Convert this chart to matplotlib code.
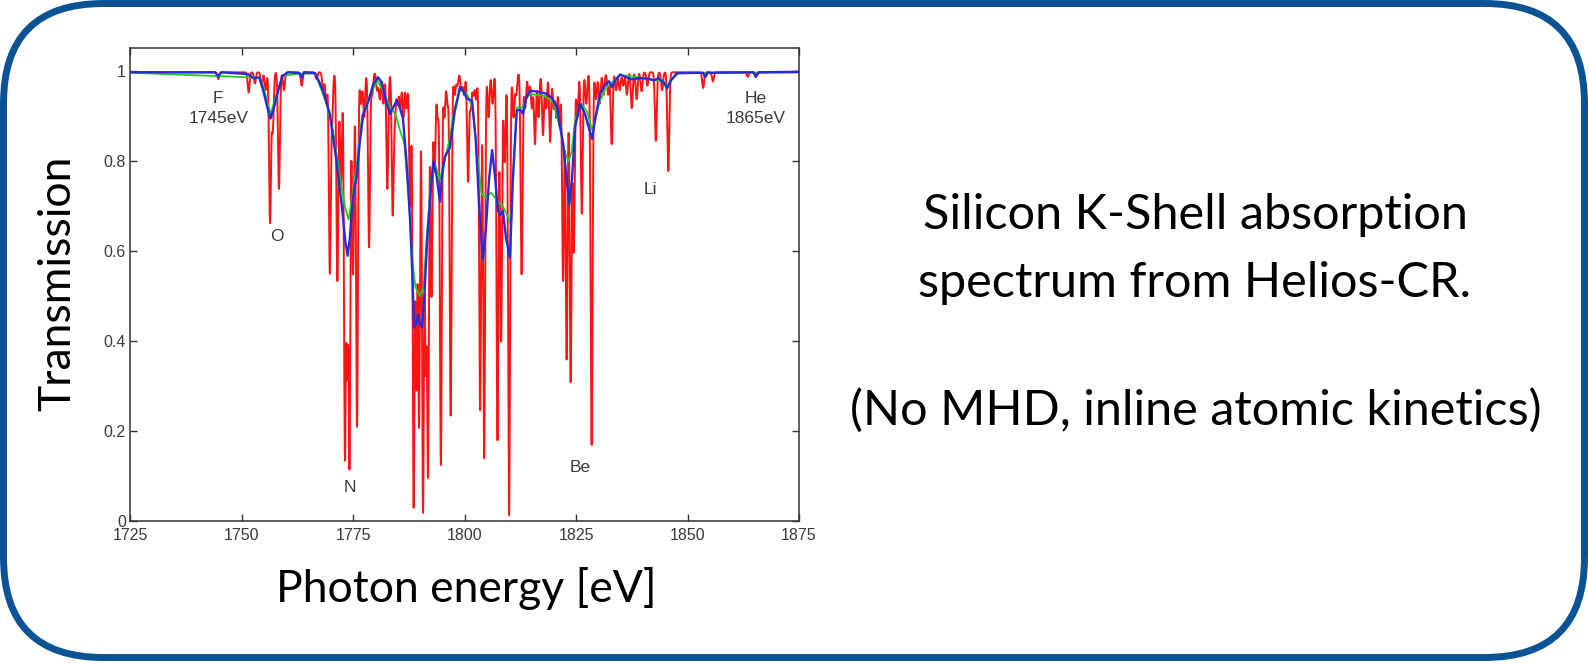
import numpy as np
import matplotlib
matplotlib.use("Agg")
import matplotlib.pyplot as plt
from matplotlib.patches import FancyBboxPatch

# absorption lines of the detailed spectrum: centre [eV], transmission at line centre
line_centers = [1744.8, 1751.6, 1753.0, 1754.5, 1755.4, 1756.4, 1757.0, 1758.4, 1759.5, 1763.5, 1766.8,
                1768.3, 1769.0, 1769.8, 1770.3, 1771.5, 1772.3, 1773.2, 1773.7, 1774.2, 1775.0, 1775.9,
                1776.8, 1777.5, 1778.6, 1779.3, 1780.4, 1781.0, 1781.8, 1782.7, 1783.9, 1784.4, 1785.0,
                1785.6, 1786.3, 1787.0, 1787.8, 1788.6, 1789.2, 1789.8, 1790.7, 1791.3, 1791.8, 1792.6,
                1793.3, 1794.0, 1794.7, 1795.5, 1796.2, 1796.9, 1797.8, 1798.4, 1799.3, 1799.9, 1800.8,
                1801.4, 1802.0, 1802.6, 1803.5, 1804.4, 1805.4, 1806.3, 1807.4, 1808.2, 1809.0, 1810.0,
                1811.0, 1811.6, 1812.8, 1813.6, 1814.4, 1815.1, 1815.8, 1816.6, 1817.6, 1818.3, 1819.2,
                1820.0, 1820.6, 1821.3, 1822.1, 1822.9, 1823.8, 1824.5, 1825.3, 1826.3, 1827.3, 1828.5,
                1829.5, 1830.3, 1831.2, 1832.2, 1833.0, 1834.0, 1834.8, 1835.6, 1836.4, 1837.5, 1838.6,
                1839.7, 1841.0, 1842.9, 1844.3, 1845.7, 1853.5, 1855.7, 1863.5, 1865.3]
line_minima = [0.985, 0.955, 0.975, 0.97, 0.96, 0.665, 0.87, 0.74, 0.96, 0.97, 0.985,
               0.96, 0.93, 0.555, 0.90, 0.535, 0.75, 0.14, 0.35, 0.12, 0.55, 0.21,
               0.93, 0.90, 0.61, 0.95, 0.96, 0.94, 0.93, 0.74, 0.685, 0.90, 0.93,
               0.92, 0.90, 0.92, 0.70, 0.03, 0.30, 0.21, 0.018, 0.35, 0.10, 0.50,
               0.78, 0.90, 0.125, 0.90, 0.93, 0.235, 0.95, 0.97, 0.96, 0.95, 0.757,
               0.92, 0.95, 0.94, 0.247, 0.14, 0.90, 0.93, 0.18, 0.40, 0.80, 0.013,
               0.90, 0.95, 0.55, 0.92, 0.95, 0.92, 0.84, 0.90, 0.86, 0.92, 0.845,
               0.92, 0.90, 0.88, 0.535, 0.36, 0.31, 0.60, 0.90, 0.685, 0.93, 0.17,
               0.94, 0.93, 0.95, 0.95, 0.84, 0.96, 0.96, 0.97, 0.95, 0.92, 0.94,
               0.958, 0.97, 0.847, 0.96, 0.78, 0.965, 0.98, 0.99, 0.99]
line_width = 0.3

# instrument-smoothed spectrum (blue)
blue_e = [1725.0, 1744.0, 1744.8, 1745.5, 1751.5, 1752.5, 1754.0, 1754.8, 1755.8, 1756.5, 1757.3, 1758.3,
          1759.2, 1760.5, 1763.0, 1763.5, 1764.0, 1766.5, 1767.5, 1768.5, 1769.8, 1771.3, 1772.5, 1773.3,
          1773.8, 1774.3, 1775.0, 1775.8, 1776.5, 1777.3, 1778.5, 1779.5, 1780.6, 1781.5, 1782.5, 1783.3,
          1784.0, 1784.8, 1785.5, 1786.2, 1787.0, 1787.8, 1788.3, 1788.7, 1789.2, 1789.6, 1790.0, 1790.5,
          1791.0, 1791.6, 1792.3, 1793.0, 1793.7, 1794.5, 1795.0, 1795.6, 1796.7, 1797.8, 1799.0, 1799.8,
          1800.5, 1801.7, 1802.5, 1803.3, 1804.1, 1804.8, 1805.5, 1806.2, 1806.8, 1807.5, 1808.0, 1808.6,
          1809.3, 1810.2, 1810.8, 1811.7, 1812.5, 1813.1, 1813.8, 1814.7, 1816.5, 1818.5, 1819.7, 1820.7,
          1822.1, 1823.0, 1823.5, 1824.1, 1824.8, 1825.9, 1827.0, 1828.0, 1828.6, 1829.4, 1830.4, 1831.5,
          1832.4, 1833.1, 1833.8, 1834.9, 1836.0, 1837.5, 1839.0, 1841.0, 1842.5, 1843.5, 1844.7, 1845.4,
          1846.3, 1847.6, 1853.5, 1854.0, 1854.5, 1864.8, 1865.3, 1866.0, 1875.0]
blue_t = [0.998, 0.998, 0.99, 0.998, 0.994, 0.986, 0.986, 0.96, 0.92, 0.895, 0.92, 0.96,
          0.99, 0.998, 0.996, 0.986, 0.998, 0.996, 0.975, 0.95, 0.905, 0.80, 0.70, 0.62,
          0.59, 0.63, 0.72, 0.765, 0.84, 0.905, 0.935, 0.97, 0.987, 0.975, 0.93, 0.905,
          0.92, 0.935, 0.92, 0.895, 0.80, 0.67, 0.55, 0.43, 0.44, 0.46, 0.44, 0.43,
          0.50, 0.62, 0.72, 0.80, 0.77, 0.71, 0.77, 0.81, 0.83, 0.91, 0.965, 0.955,
          0.94, 0.935, 0.85, 0.70, 0.58, 0.65, 0.76, 0.825, 0.77, 0.69, 0.68, 0.69,
          0.63, 0.585, 0.75, 0.913, 0.915, 0.905, 0.94, 0.957, 0.955, 0.95, 0.94, 0.92,
          0.84, 0.75, 0.705, 0.76, 0.876, 0.928, 0.906, 0.87, 0.85, 0.90, 0.95, 0.97,
          0.978, 0.965, 0.98, 0.993, 0.988, 0.982, 0.985, 0.984, 0.98, 0.985, 0.975, 0.962,
          0.98, 0.996, 0.997, 0.987, 0.997, 0.998, 0.988, 0.998, 0.999]

# second smoothed spectrum (green)
green_e = [1725.0, 1754.0, 1754.8, 1756.5, 1757.3, 1758.5, 1759.3, 1763.0, 1766.5, 1767.5, 1769.0, 1770.5,
           1772.0, 1773.2, 1774.0, 1774.8, 1775.8, 1777.0, 1778.5, 1780.5, 1782.0, 1783.3, 1784.5, 1785.5,
           1786.5, 1787.5, 1788.3, 1789.0, 1790.0, 1790.8, 1791.6, 1792.5, 1793.5, 1794.5, 1795.5, 1796.7,
           1797.8, 1799.0, 1800.5, 1801.8, 1802.8, 1803.8, 1804.5, 1806.0, 1807.5, 1808.6, 1809.6, 1810.4,
           1811.0, 1811.8, 1813.0, 1814.5, 1818.0, 1820.0, 1821.5, 1822.5, 1823.3, 1824.0, 1824.8, 1826.0,
           1827.5, 1828.6, 1829.5, 1830.2, 1831.5, 1833.0, 1835.0, 1840.0, 1844.7, 1845.4, 1846.3, 1848.0,
           1875.0]
green_t = [0.997, 0.986, 0.97, 0.905, 0.93, 0.97, 0.99, 0.995, 0.995, 0.97, 0.93, 0.87,
           0.77, 0.70, 0.67, 0.72, 0.79, 0.90, 0.94, 0.98, 0.95, 0.92, 0.905, 0.87,
           0.84, 0.72, 0.58, 0.52, 0.50, 0.52, 0.64, 0.76, 0.79, 0.76, 0.80, 0.85,
           0.92, 0.96, 0.95, 0.92, 0.82, 0.73, 0.72, 0.73, 0.71, 0.70, 0.68, 0.66,
           0.80, 0.92, 0.92, 0.95, 0.945, 0.93, 0.87, 0.82, 0.80, 0.82, 0.89, 0.93,
           0.91, 0.87, 0.90, 0.93, 0.96, 0.975, 0.992, 0.985, 0.977, 0.968, 0.98, 0.996,
           0.998]

# ion stage labels
ion_labels = ["F\n1745eV", "O", "N", "Be", "Li", "He\n1865eV"]
ion_label_e = [1744.8, 1757.9, 1774.2, 1825.9, 1841.7, 1865.3]
ion_label_t = [0.918, 0.632, 0.075, 0.12, 0.737, 0.918]

energy = np.linspace(1725, 1875, 15001)
red = np.full_like(energy, 0.998)
for c, t in zip(line_centers, line_minima):
    red *= 1 - (1 - t) * np.exp(-((energy - c) / line_width) ** 2)

W, H = 1588, 664
fig = plt.figure(figsize=(W / 100, H / 100), dpi=100)

# rounded frame around everything
bg = fig.add_axes([0, 0, 1, 1], zorder=0)
bg.set_xlim(0, W)
bg.set_ylim(0, H)
bg.axis("off")
bg.add_patch(FancyBboxPatch((3.5, 6.5), W - 7, H - 10, boxstyle="round,pad=0,rounding_size=100",
                            lw=5.0, ec="#0b5394", fc="white"))

ax = fig.add_axes([130 / W, 143 / H, 669 / W, 473 / H], zorder=1)
ax.plot(energy, red, color="#ff1414", lw=1.4, zorder=2)
ax.plot(green_e, green_t, color="#22cc22", lw=1.3, zorder=3)
ax.plot(blue_e, blue_t, color="#2a2ad8", lw=1.7, zorder=4)

ax.set_xlim(1725, 1875)
ax.set_ylim(0, 1.052)
ax.set_xticks(np.arange(1725, 1876, 25))
ax.set_yticks([0, 0.2, 0.4, 0.6, 0.8, 1])
ax.set_yticklabels(["0", "0.2", "0.4", "0.6", "0.8", "1"])
ax.tick_params(direction="in", length=5, width=1, color="#333333", top=True, right=True,
               labelsize=11.5, labelcolor="#3a3a3a")
ax.tick_params(axis="x", pad=5)
ax.tick_params(axis="y", pad=3)
for lab in ax.get_xticklabels() + ax.get_yticklabels():
    lab.set_family("Liberation Sans")
for s in ax.spines.values():
    s.set_color("#333333")
    s.set_linewidth(1.1)

for txt, e, t in zip(ion_labels, ion_label_e, ion_label_t):
    ax.text(e, t, txt, ha="center", va="center", fontsize=12.5, color="#3a3a3a",
            family="Liberation Sans", linespacing=1.45, zorder=5)

axis_font = dict(family="Lato", fontsize=32, color="black")
note_font = dict(family="Lato", fontsize=35, color="black")
fig.text(58 / W, 1 - 283 / H, "Transmission", rotation=90, ha="center", va="center", **axis_font)
fig.text(466 / W, 1 - 588 / H, "Photon energy [eV]", ha="center", va="center", **axis_font)
fig.text(1195 / W, 1 - 215 / H, "Silicon K-Shell absorption", ha="center", va="center", **note_font)
fig.text(1195 / W, 1 - 283 / H, "spectrum from Helios-CR.", ha="center", va="center", **note_font)
fig.text(1196 / W, 1 - 410 / H, "(No MHD, inline atomic kinetics)", ha="center", va="center", **note_font)

fig.savefig("out.png", dpi=100)
